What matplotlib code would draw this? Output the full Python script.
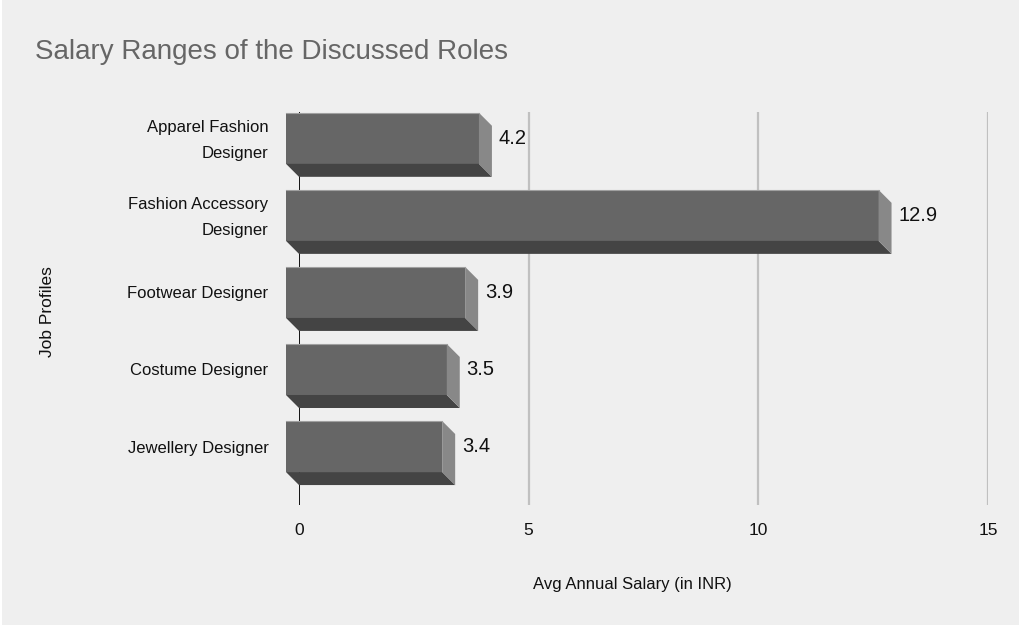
import matplotlib
matplotlib.use("Agg")
import matplotlib.pyplot as plt
from matplotlib.patches import Polygon, Rectangle
from matplotlib.transforms import ScaledTranslation

plt.rcParams['font.family'] = ['Liberation Sans', 'DejaVu Sans']

roles = ["Apparel Fashion\nDesigner", "Fashion Accessory\nDesigner", "Footwear Designer",
         "Costume Designer", "Jewellery Designer"]
salary = [4.2, 12.9, 3.9, 3.5, 3.4]
xticks = [0, 5, 10, 15]

bg = '#efefef'
fig = plt.figure(figsize=(10.2, 6.27), dpi=100)
fig.patch.set_facecolor('white')
fig.add_artist(Rectangle((2 / 1020, 2 / 627), 1, 1, transform=fig.transFigure,
                         facecolor=bg, edgecolor='none', zorder=-10))

ax = fig.add_axes([299 / 1020, 1 - 505 / 627, (988 - 299) / 1020, (505 - 112) / 627])
ax.set_facecolor('none')
ax.set_xlim(0, 15)
ax.set_ylim(4.59, -0.51)

# 3d depth offsets, in data units (~13 px each way)
dx = 13 / 45.93
dy = 13 / 77
h = 51 / 77

for i, v in enumerate(salary):
    top = i - h / 2
    bot = i + h / 2
    # front face
    ax.add_patch(Rectangle((-dx, top - dy), v, h, facecolor='#666666',
                           edgecolor='none', zorder=3, clip_on=False))
    ax.plot([-dx, v - dx], [top - dy, top - dy], color='#a0a0a0', lw=0.8, zorder=4, clip_on=False)
    # bottom face
    ax.add_patch(Polygon([(-dx, bot - dy), (v - dx, bot - dy), (v, bot), (0, bot)],
                         closed=True, facecolor='#444444', edgecolor='none', zorder=3, clip_on=False))
    # right side face
    ax.add_patch(Polygon([(v - dx, top - dy), (v, top), (v, bot), (v - dx, bot - dy)],
                         closed=True, facecolor='#888888', edgecolor='none', zorder=3, clip_on=False))
    ax.text(v + 0.15, i - dy, f"{v}", va='center', ha='left', fontsize=14.5, color='#111111')

for t in xticks[1:]:
    ax.axvline(t, color='#c0c0c0', lw=1.6, zorder=1)
ax.axvline(0, color='black', lw=1.3, zorder=2)

ax.set_xticks(xticks)
ax.set_xticklabels([str(t) for t in xticks], fontsize=12.5, color='#111111')
ax.set_yticks([i - dy for i in range(len(roles))])
ax.set_yticklabels(roles, fontsize=12, color='#111111', multialignment='right', linespacing=1.9)
ax.tick_params(axis='x', length=0, pad=13)
ax.tick_params(axis='y', length=0, pad=22)
for lab in ax.get_yticklabels():
    if "\n" in lab.get_text():
        lab.set_transform(lab.get_transform() + ScaledTranslation(0, 0.05, fig.dpi_scale_trans))
for s in ax.spines.values():
    s.set_visible(False)

fig.text(35 / 1020, 1 - 52 / 627, "Salary Ranges of the Discussed Roles", fontsize=20,
         color='#666666', va='center', ha='left')
fig.text(632 / 1020, 1 - 585 / 627, "Avg Annual Salary (in INR)", fontsize=12,
         color='#111111', va='center', ha='center')
fig.text(47 / 1020, 1 - 312 / 627, "Job Profiles", fontsize=12.5, rotation=90,
         color='#111111', va='center', ha='center')

fig.savefig("out.png", dpi=100)
